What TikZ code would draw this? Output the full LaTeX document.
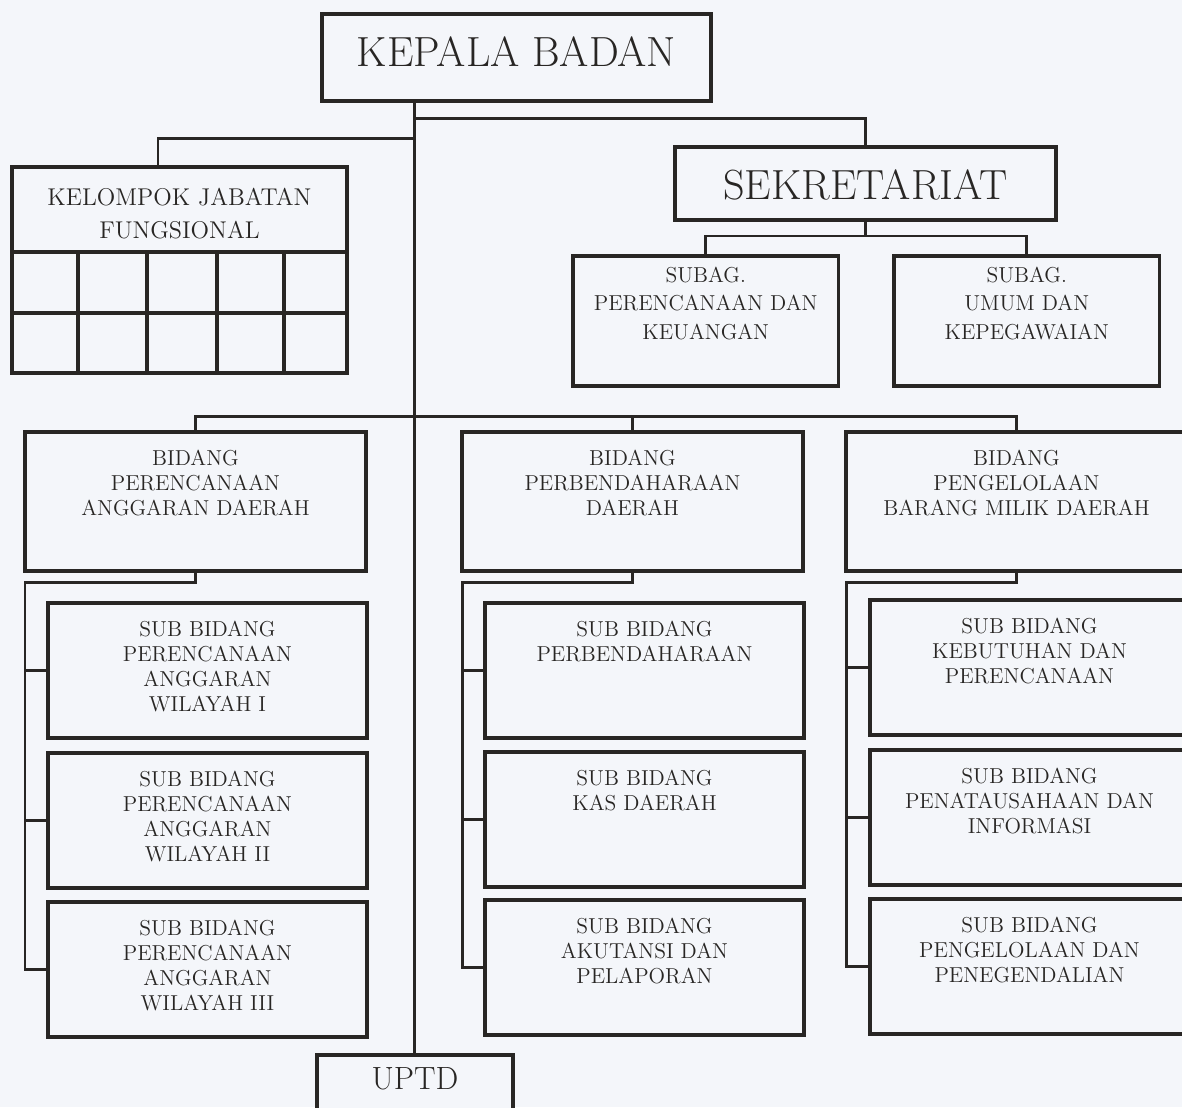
\documentclass[tikz,border=0pt]{standalone}
\usetikzlibrary{positioning}
\definecolor{ink}{RGB}{40,38,36}
\definecolor{paper}{RGB}{244,246,250}

\begin{document}
\begin{tikzpicture}
[
x=0.02cm, y=-0.02cm
, orgbox/.style={draw=ink, line width=2.1pt, fill=paper, anchor=north west, inner sep=0pt, outer sep=0pt}
, bidang/.style={orgbox, minimum width=6.82cm, minimum height=2.78cm}
, subbidang/.style={orgbox, minimum width=6.38cm, minimum height=2.70cm}
, subag/.style={orgbox, minimum width=5.31cm, minimum height=2.60cm}
, boxtext/.style={font=\fontsize{12.3}{14.2}\selectfont, align=center, anchor=north, inner sep=0pt, text=ink}
, titled/.style={label={[boxtext, yshift=-0.36cm]north:#1}}
, wire/.style={draw=ink, line width=1.7pt}
, cellline/.style={draw=ink, line width=2pt}
]
\useasboundingbox (0,0) rectangle (1182,1107);
\clip (0,0) rectangle (1182,1107);
\fill[paper] (0,0) rectangle (1182,1107);

% head and staff
\node[orgbox, minimum width=7.78cm, minimum height=1.74cm, label={[boxtext, font=\fontsize{24}{28}\selectfont, yshift=-0.44cm]north:KEPALA BADAN}] (kb) at (322,14) {};
\node[orgbox, minimum width=6.70cm, minimum height=4.12cm, label={[boxtext, font=\fontsize{13.8}{18.7}\selectfont, yshift=-0.41cm]north:KELOMPOK JABATAN\\FUNGSIONAL}] (kjf) at (12,167) {};
\node[orgbox, minimum width=7.62cm, minimum height=1.46cm, label={[boxtext, font=\fontsize{24}{28}\selectfont, yshift=-0.44cm]north:SEKRETARIAT}] (sek) at (675,147) {};
\node[subag, label={[boxtext, font=\fontsize{12.3}{16.2}\selectfont, yshift=-0.21cm]north:SUBAG.\\PERENCANAAN DAN\\KEUANGAN}] (spk) at (573,256) {};
\node[subag, label={[boxtext, font=\fontsize{12.3}{16.2}\selectfont, yshift=-0.21cm]north:SUBAG.\\UMUM DAN\\KEPEGAWAIAN}] (suk) at (894,256) {};

% bidang
\node[bidang, titled={BIDANG\\PERENCANAAN\\ANGGARAN DAERAH}] (bpad) at (25,432) {};
\node[bidang, titled={BIDANG\\PERBENDAHARAAN\\DAERAH}] (bpd) at (462,432) {};
\node[bidang, titled={BIDANG\\PENGELOLAAN\\BARANG MILIK DAERAH}] (bpbmd) at (846,432) {};

% sub bidang
\node[subbidang, titled={SUB BIDANG\\PERENCANAAN\\ANGGARAN\\WILAYAH I}] (sa1) at (48,603) {};
\node[subbidang, below=0.3cm of sa1, titled={SUB BIDANG\\PERENCANAAN\\ANGGARAN\\WILAYAH II}] (sa2) {};
\node[subbidang, below=0.28cm of sa2, titled={SUB BIDANG\\PERENCANAAN\\ANGGARAN\\WILAYAH III}] (sa3) {};
\node[subbidang, titled={SUB BIDANG\\PERBENDAHARAAN}] (sb1) at (485,603) {};
\node[subbidang, below=0.28cm of sb1, titled={SUB BIDANG\\KAS DAERAH}] (sb2) {};
\node[subbidang, below=0.26cm of sb2, titled={SUB BIDANG\\AKUTANSI DAN\\PELAPORAN}] (sb3) {};
\node[subbidang, titled={SUB BIDANG\\KEBUTUHAN DAN\\PERENCANAAN}] (sc1) at (870,600) {};
\node[subbidang, below=0.3cm of sc1, titled={SUB BIDANG\\PENATAUSAHAAN DAN\\INFORMASI}] (sc2) {};
\node[subbidang, below=0.28cm of sc2, titled={SUB BIDANG\\PENGELOLAAN DAN\\PENEGENDALIAN}] (sc3) {};

\node[orgbox, minimum width=3.92cm, minimum height=1.4cm, label={[boxtext, font=\fontsize{18.3}{22}\selectfont, yshift=-0.25cm]north:UPTD}] (uptd) at (317,1055) {};

% grid of kjf
\draw[cellline] (kjf.west |- 0,252) -- (kjf.east |- 0,252);
\draw[cellline] (kjf.west |- 0,313) -- (kjf.east |- 0,313);
\draw[cellline] (78,252) -- (78,0 |- kjf.south);
\draw[cellline] (147,252) -- (147,0 |- kjf.south);
\draw[cellline] (217,252) -- (217,0 |- kjf.south);
\draw[cellline] (284,252) -- (284,0 |- kjf.south);

% trunk
\coordinate (kjfin) at (158,138);
\coordinate (sekbus) at (0,118);
\coordinate (bidangbus) at (0,416);
\draw[wire] (uptd.north |- kb.south) -- (uptd.north);
\draw[wire] (uptd.north |- kjfin) -- (kjfin) -- (kjfin |- kjf.north);
\draw[wire] (uptd.north |- sekbus) -| (sek.north);
\draw[wire] (sek.south) -- ++(0,16) coordinate (subagbus);
\draw[wire] (spk.north) |- (subagbus) -| (suk.north);
\draw[wire] (bpad.north) |- (bidangbus -| bpbmd.north) -- (bpbmd.north);
\draw[wire] (bpd.north) -- (bpd.north |- bidangbus);

% columns
\draw[wire] (bpad.south) -- ++(0,12) -| (sa3.west -| bpad.west) -- (sa3.west);
\draw[wire] (sa1.west) -- (sa1.west -| bpad.west);
\draw[wire] (sa2.west) -- (sa2.west -| bpad.west);
\draw[wire] (bpd.south) -- ++(0,12) -| (sb3.west -| bpd.west) -- (sb3.west);
\draw[wire] (sb1.west) -- (sb1.west -| bpd.west);
\draw[wire] (sb2.west) -- (sb2.west -| bpd.west);
\draw[wire] (bpbmd.south) -- ++(0,12) -| (sc3.west -| bpbmd.west) -- (sc3.west);
\draw[wire] (sc1.west) -- (sc1.west -| bpbmd.west);
\draw[wire] (sc2.west) -- (sc2.west -| bpbmd.west);

\end{tikzpicture}
\end{document}
